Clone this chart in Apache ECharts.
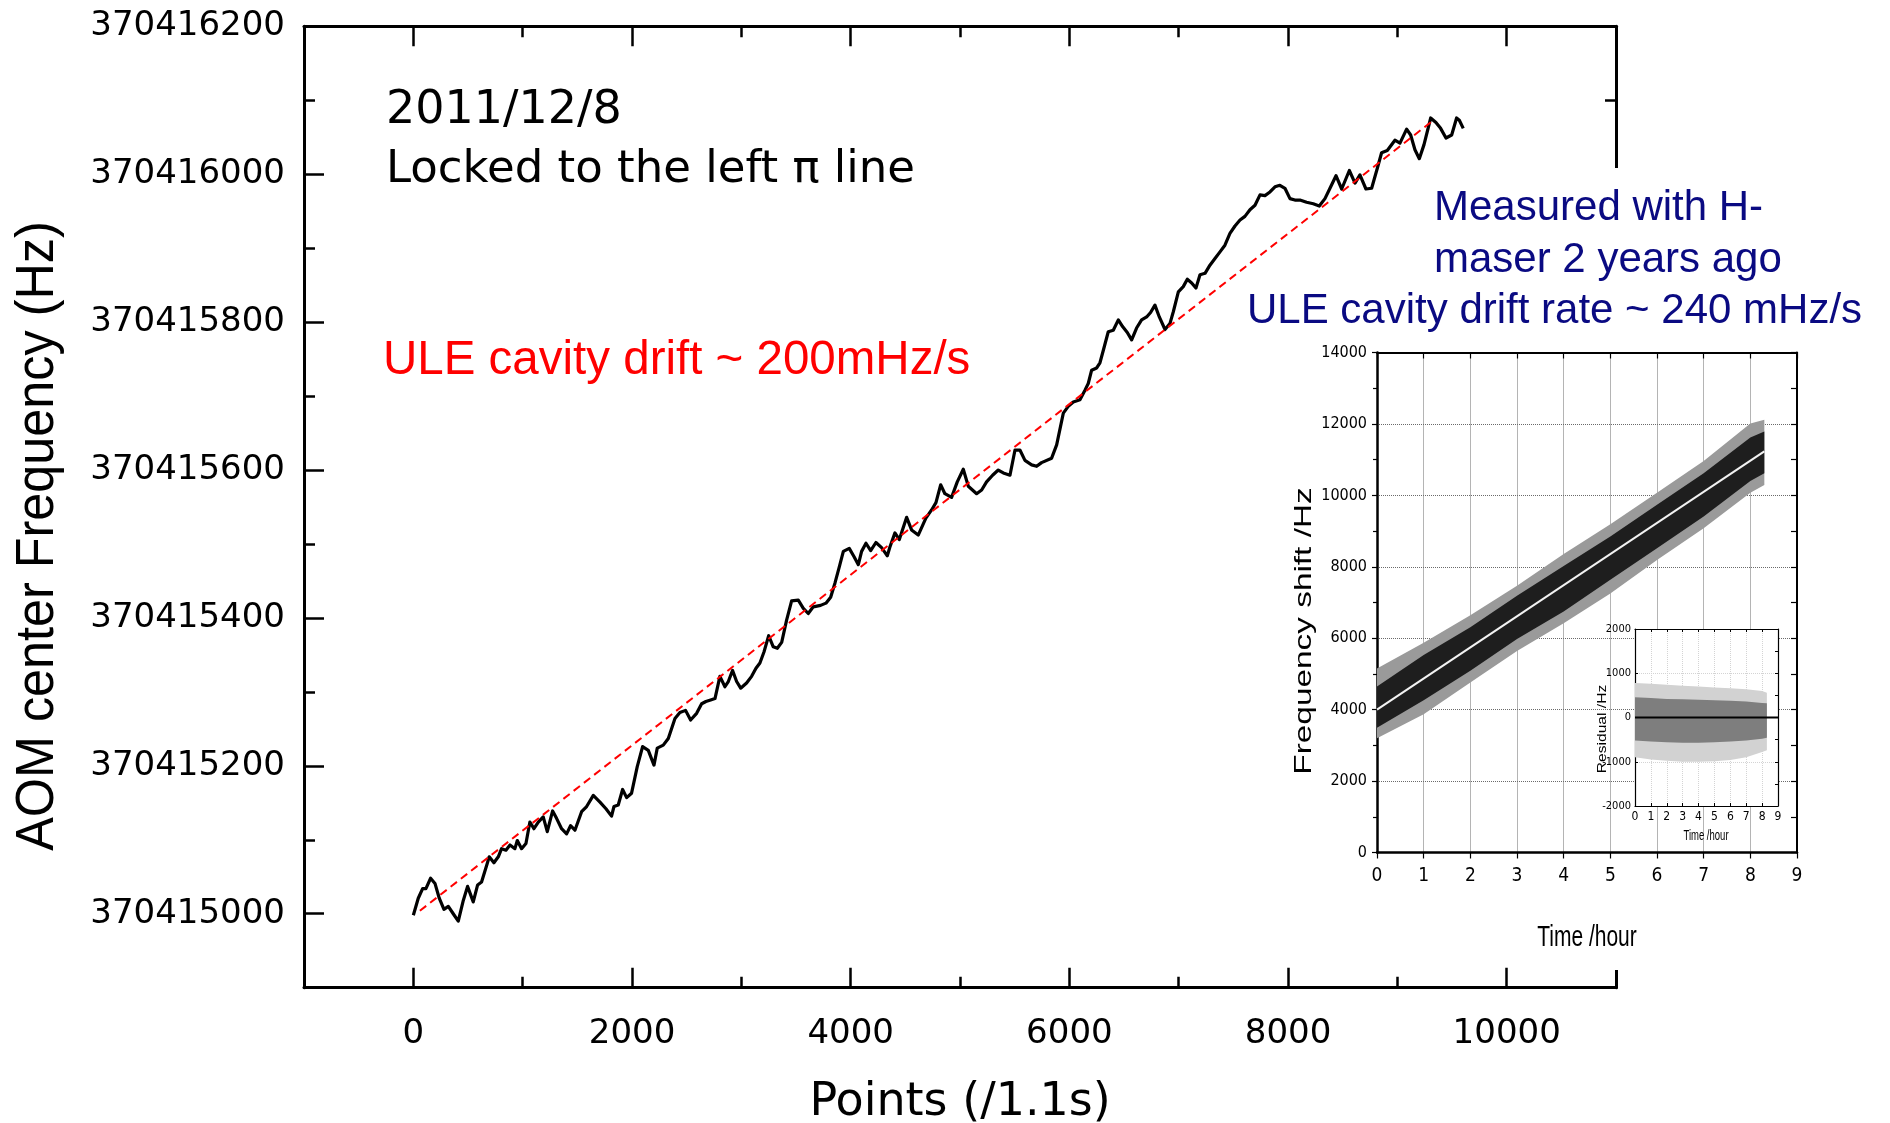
<!DOCTYPE html>
<html>
<head>
<meta charset="utf-8">
<title>AOM center frequency drift</title>
<script src="https://cdn.jsdelivr.net/npm/echarts@6/dist/echarts.min.js"></script>
<style>
  html, body { margin: 0; padding: 0; background: #fff; }
  #chart { width: 1890px; height: 1123px; }
</style>
</head>
<body>
<div id="chart"></div>
<script>
// main trace, point index (1 point = 1.1 s) vs AOM centre frequency (Hz)
const pointIdx = [
  0,45,85,115,158,198,237,280,320,365,
  411,457,496,548,588,624,676,694,737,777,
  807,847,884,929,951,990,1030,1066,1103,1143,
  1188,1225,1274,1310,1356,1402,1438,1478,1539,1585,
  1646,1707,1762,1813,1835,1874,1914,1951,1996,2048,
  2097,2149,2201,2231,2286,2332,2393,2438,2490,2536,
  2591,2637,2676,2719,2759,2804,2850,2881,2920,2957,
  2994,3048,3094,3134,3170,3207,3250,3292,3329,3369,
  3414,3460,3521,3567,3612,3658,3725,3774,3817,3856,
  3896,3933,3987,4030,4070,4100,4140,4183,4231,4283,
  4335,4359,4405,4445,4512,4557,4618,4688,4740,4780,
  4823,4862,4923,4975,5030,5076,5152,5198,5243,5298,
  5350,5396,5457,5503,5548,5594,5655,5701,5746,5838,
  5884,5945,5990,6036,6097,6143,6173,6204,6250,6280,
  6311,6356,6402,6448,6487,6530,6570,6615,6661,6707,
  6743,6783,6823,6875,6920,6951,6997,7042,7079,7119,
  7158,7195,7241,7286,7332,7378,7423,7469,7515,7561,
  7606,7652,7698,7744,7789,7835,7881,7926,7972,8018,
  8063,8109,8170,8231,8286,8338,8384,8439,8491,8561,
  8613,8658,8713,8765,8817,8856,8908,8978,9024,9085,
  9122,9161,9201,9244,9305,9353,9396,9445,9497,9542,
  9567,9603
];
const freqHz = [
  370414998,370415021,370415034,370415034,370415048,370415041,370415021,370415006,370415010,370415000,
  370414990,370415018,370415037,370415016,370415039,370415043,370415068,370415077,370415069,370415077,
  370415088,370415086,370415093,370415088,370415099,370415088,370415095,370415124,370415115,370415124,
  370415131,370415111,370415139,370415129,370415115,370415108,370415119,370415113,370415138,370415145,
  370415160,370415151,370415142,370415132,370415145,370415147,370415168,370415157,370415163,370415199,
  370415226,370415221,370415201,370415224,370415228,370415237,370415264,370415272,370415275,370415262,
  370415271,370415284,370415287,370415289,370415291,370415321,370415307,370415314,370415329,370415314,
  370415305,370415312,370415321,370415332,370415339,370415354,370415376,370415361,370415359,370415367,
  370415397,370415423,370415424,370415413,370415406,370415415,370415417,370415420,370415428,370415447,
  370415469,370415490,370415494,370415483,370415472,370415490,370415501,370415491,370415502,370415495,
  370415484,370415496,370415515,370415506,370415536,370415519,370415512,370415535,370415546,370415556,
  370415580,370415568,370415563,370415584,370415601,370415578,370415568,370415573,370415584,370415593,
  370415600,370415596,370415593,370415627,370415627,370415613,370415607,370415605,370415610,370415616,
  370415634,370415677,370415686,370415692,370415695,370415708,370415717,370415735,370415738,370415745,
  370415762,370415787,370415789,370415803,370415794,370415786,370415776,370415792,370415803,370415807,
  370415813,370415823,370415807,370415790,370415798,370415814,370415841,370415848,370415858,370415853,
  370415846,370415864,370415866,370415877,370415886,370415895,370415904,370415920,370415930,370415938,
  370415943,370415952,370415958,370415972,370415971,370415976,370415983,370415985,370415981,370415967,
  370415965,370415965,370415962,370415960,370415957,370415967,370415981,370415998,370415980,370416005,
  370415988,370415999,370415980,370415981,370416008,370416029,370416032,370416046,370416042,370416061,
  370416053,370416033,370416021,370416040,370416076,370416070,370416062,370416049,370416053,370416076,
  370416073,370416062
];

// red dashed drift guide
const driftIdx = [60, 9330];
const driftHz = [370415004, 370416073];

const insetHours = [0, 1, 2, 3, 4, 5, 6, 7, 8, 8.3];
const insetOuterLow = [3200, 3870, 4760, 5640, 6420, 7250, 8190, 9080, 10070, 10290];
const insetCoreLow = [3490, 4260, 5090, 5980, 6750, 7640, 8520, 9410, 10400, 10620];
const insetCoreHigh = [4650, 5530, 6310, 7190, 8020, 8850, 9740, 10620, 11620, 11790];
const insetOuterHigh = [5150, 5870, 6640, 7470, 8360, 9190, 10070, 10960, 12010, 12120];
const fitHours = [0, 8.3];
const fitHz = [4000, 11230];

// inset of inset: residuals
const residHours = [0, 1, 2, 3, 4, 5, 6, 7, 8, 8.3];
const residOuterLow = [-900, -950, -980, -1000, -1000, -990, -960, -900, -780, -740];
const residCoreLow = [-520, -540, -560, -570, -570, -560, -540, -520, -480, -460];
const residCoreHigh = [460, 440, 420, 410, 400, 390, 380, 360, 330, 320];
const residOuterHigh = [780, 760, 740, 720, 700, 680, 660, 640, 600, 560];
const zeroHours = [0, 9];
const zeroHz = [0, 0];

const TICK_FONT = 'DejaVu Sans';
const NARROW = '"Liberation Sans Narrow", "DejaVu Sans Condensed", "Liberation Sans", sans-serif';
const ARIAL = '"Liberation Sans", Arial, sans-serif';

const pairs = (xs, ys) => xs.map((x, i) => [x, ys[i]]);

// filled polygon between a lower and an upper envelope
function band(xs, low, high, color, axisIdx, z) {
  return {
    type: 'custom',
    coordinateSystem: 'cartesian2d',
    xAxisIndex: axisIdx,
    yAxisIndex: axisIdx,
    z: z,
    silent: true,
    data: [[xs[0], low[0]]],
    renderItem: (params, api) => {
      const top = xs.map((x, i) => api.coord([x, high[i]]));
      const bottom = xs.map((x, i) => api.coord([x, low[i]])).reverse();
      return { type: 'polygon', shape: { points: top.concat(bottom) }, style: { fill: color } };
    }
  };
}

const black = '#000';
const frame = (w) => ({ show: true, onZero: false, lineStyle: { color: black, width: w } });
const noLabel = { show: false };
const dotted = (c) => ({ show: true, lineStyle: { type: 'dotted', color: c, width: 1 } });

const mainMinorX = (pos) => ({
  gridIndex: 0, type: 'value', position: pos, min: -1000, max: 11000, interval: 1000,
  axisLine: frame(3), axisTick: { inside: true, length: 11, lineStyle: { width: 2.5, color: black } },
  axisLabel: noLabel, splitLine: { show: false }
});
const mainMinorY = (pos) => ({
  gridIndex: 0, type: 'value', position: pos, min: 370414900, max: 370416200, interval: 100,
  axisLine: frame(3), axisTick: { inside: true, length: 11, lineStyle: { width: 2.5, color: black } },
  axisLabel: noLabel, splitLine: { show: false }
});
const hoursAxis = (grid, pos, z, lw, tick, label, split) => ({
  gridIndex: grid, type: 'value', position: pos, min: 0, max: 9, interval: 1, z: z,
  axisLine: frame(lw), axisTick: tick, axisLabel: label, splitLine: split
});

const option = {
  animation: false,
  backgroundColor: '#fff',
  grid: [
    { left: 304, top: 26.3, width: 1312, height: 961.4, outerBoundsMode: 'none' },
    { left: 413.4, top: 26.3, width: 1093.3, height: 961.4, outerBoundsMode: 'none' },
    { left: 304, top: 26.3, width: 1312, height: 887.4, outerBoundsMode: 'none' },
    { left: 1377, top: 352.5, width: 420, height: 500, outerBoundsMode: 'none' },
    { left: 1635, top: 629, width: 143, height: 177, outerBoundsMode: 'none' }
  ],
  xAxis: [
    mainMinorX('bottom'),
    mainMinorX('top'),
    {
      gridIndex: 1, type: 'value', position: 'bottom', min: 0, max: 10000, interval: 2000,
      axisLine: { show: false },
      axisTick: { inside: true, length: 20, lineStyle: { width: 2.5, color: black } },
      axisLabel: { margin: 29, fontSize: 34, fontFamily: TICK_FONT, color: black, formatter: (v) => String(v) },
      splitLine: { show: false },
      name: 'Points (/1.1s)', nameLocation: 'middle', nameGap: 92,
      nameTextStyle: { fontSize: 46, fontFamily: TICK_FONT, color: black }
    },
    {
      gridIndex: 1, type: 'value', position: 'top', min: 0, max: 10000, interval: 2000,
      axisLine: { show: false },
      axisTick: { inside: true, length: 20, lineStyle: { width: 2.5, color: black } },
      axisLabel: noLabel, splitLine: { show: false }
    },
    { gridIndex: 2, type: 'value', show: false, min: 0, max: 1 },
    hoursAxis(3, 'bottom', 3, 2.5,
      { inside: false, length: 6, lineStyle: { width: 1.2, color: black } },
      { margin: 14, fontSize: 19, fontFamily: NARROW, color: black },
      dotted('#6a6a6a')),
    hoursAxis(3, 'top', 3, 2,
      { inside: true, length: 6, lineStyle: { width: 1.2, color: black } },
      noLabel, { show: false }),
    hoursAxis(4, 'bottom', 6, 1.2,
      { inside: true, length: 3, lineStyle: { width: 1, color: black } },
      { margin: 5, fontSize: 12, fontFamily: NARROW, color: black },
      dotted('#d4d4d4')),
    hoursAxis(4, 'top', 6, 1.2,
      { inside: true, length: 3, lineStyle: { width: 1, color: black } },
      noLabel, { show: false })
  ],
  yAxis: [
    mainMinorY('left'),
    mainMinorY('right'),
    { gridIndex: 1, type: 'value', show: false, min: 0, max: 1 },
    {
      gridIndex: 2, type: 'value', position: 'left', min: 370415000, max: 370416200, interval: 200,
      axisLine: { show: false },
      axisTick: { inside: true, length: 20, lineStyle: { width: 2.5, color: black } },
      axisLabel: { margin: 19, fontSize: 34, fontFamily: TICK_FONT, color: black, formatter: (v) => String(v) },
      splitLine: { show: false }
    },
    {
      gridIndex: 2, type: 'value', position: 'right', min: 370415000, max: 370416200, interval: 200,
      axisLine: { show: false },
      axisTick: { inside: true, length: 20, lineStyle: { width: 2.5, color: black } },
      axisLabel: noLabel, splitLine: { show: false }
    },
    {
      gridIndex: 3, type: 'value', position: 'left', min: 0, max: 14000, interval: 2000, z: 3,
      axisLine: frame(2.5),
      axisTick: { inside: false, length: 5, lineStyle: { width: 1.2, color: black } },
      minorTick: { show: true, splitNumber: 2, length: 4, lineStyle: { width: 1.2, color: black } },
      axisLabel: { margin: 10, fontSize: 16, fontFamily: NARROW, color: black, formatter: (v) => String(v) },
      splitLine: dotted('#6a6a6a')
    },
    {
      gridIndex: 3, type: 'value', position: 'right', min: 0, max: 14000, interval: 2000, z: 3,
      axisLine: frame(2),
      axisTick: { inside: true, length: 6, lineStyle: { width: 1.2, color: black } },
      minorTick: { show: true, splitNumber: 2, length: 6, lineStyle: { width: 1.2, color: black } },
      axisLabel: noLabel, splitLine: { show: false }
    },
    {
      gridIndex: 4, type: 'value', position: 'left', min: -2000, max: 2000, interval: 1000, z: 6,
      axisLine: frame(1.2),
      axisTick: { inside: true, length: 3, lineStyle: { width: 1, color: black } },
      axisLabel: { margin: 4, fontSize: 11, fontFamily: NARROW, color: black, formatter: (v) => String(v) },
      splitLine: dotted('#d4d4d4')
    },
    {
      gridIndex: 4, type: 'value', position: 'right', min: -2000, max: 2000, interval: 1000, z: 6,
      axisLine: frame(1.2),
      axisTick: { inside: true, length: 3, lineStyle: { width: 1, color: black } },
      minorTick: { show: true, splitNumber: 2, length: 3, lineStyle: { width: 1, color: black } },
      axisLabel: noLabel, splitLine: { show: false }
    }
  ],
  series: [
    {
      type: 'line', xAxisIndex: 0, yAxisIndex: 0, z: 2,
      symbol: 'none', data: pairs(pointIdx, freqHz),
      lineStyle: { color: black, width: 3.2, join: 'round' }
    },
    {
      type: 'line', xAxisIndex: 0, yAxisIndex: 0, z: 3,
      symbol: 'none', data: pairs(driftIdx, driftHz),
      lineStyle: { color: '#ff0000', width: 2, type: [8, 5] }
    },
    band(insetHours, insetOuterLow, insetOuterHigh, '#9a9a9a', 5, 4),
    band(insetHours, insetCoreLow, insetCoreHigh, '#1e1e1e', 5, 4),
    {
      type: 'line', xAxisIndex: 5, yAxisIndex: 5, z: 5,
      symbol: 'none', data: pairs(fitHours, fitHz),
      lineStyle: { color: '#f2f2f2', width: 2 }
    },
    band(residHours, residOuterLow, residOuterHigh, '#d2d2d2', 7, 7),
    band(residHours, residCoreLow, residCoreHigh, '#7e7e7e', 7, 7),
    {
      type: 'line', xAxisIndex: 7, yAxisIndex: 7, z: 8,
      symbol: 'none', data: pairs(zeroHours, zeroHz),
      lineStyle: { color: black, width: 1.8 }
    }
  ],
  graphic: {
    elements: [
      // white patch of the pasted inset picture over the main frame
      { type: 'rect', z: 1, silent: true, shape: { x: 1590, y: 168, width: 50, height: 802 }, style: { fill: '#fff' } },
      { type: 'rect', z: 5, silent: true, shape: { x: 1635, y: 629, width: 143, height: 177 }, style: { fill: '#fff' } },
      {
        type: 'text', z: 10, x: 38, y: 536, rotation: Math.PI / 2, scaleX: 0.95,
        style: { text: 'AOM center Frequency (Hz)', font: '53px ' + ARIAL, fill: black, align: 'center', verticalAlign: 'middle' }
      },
      {
        type: 'text', z: 10, x: 386, y: 111,
        style: { text: '2011/12/8', font: '46px "DejaVu Sans"', fill: black, align: 'left', verticalAlign: 'middle' }
      },
      {
        type: 'text', z: 10, x: 386, y: 170,
        style: { text: 'Locked to the left \u03c0 line', font: '45px "DejaVu Sans"', fill: black, align: 'left', verticalAlign: 'middle' }
      },
      {
        type: 'text', z: 10, x: 383, y: 361,
        style: { text: 'ULE cavity drift ~ 200mHz/s', font: '47.5px ' + ARIAL, fill: '#ff0000', align: 'left', verticalAlign: 'middle' }
      },
      {
        type: 'text', z: 10, x: 1434, y: 208,
        style: { text: 'Measured with H-', font: '42px ' + ARIAL, fill: '#0a0a82', align: 'left', verticalAlign: 'middle' }
      },
      {
        type: 'text', z: 10, x: 1434, y: 260,
        style: { text: 'maser 2 years ago', font: '42px ' + ARIAL, fill: '#0a0a82', align: 'left', verticalAlign: 'middle' }
      },
      {
        type: 'text', z: 10, x: 1247, y: 311,
        style: { text: 'ULE cavity drift rate ~ 240 mHz/s', font: '42px ' + ARIAL, fill: '#0a0a82', align: 'left', verticalAlign: 'middle' }
      },
      {
        type: 'text', z: 10, x: 1304, y: 631, rotation: Math.PI / 2, scaleX: 1.39,
        style: { text: 'Frequency shift /Hz', font: '24px ' + ARIAL, fill: black, align: 'center', verticalAlign: 'middle' }
      },
      {
        type: 'text', z: 10, x: 1587, y: 938, scaleX: 0.7,
        style: { text: 'Time /hour', font: '30px ' + ARIAL, fill: black, align: 'center', verticalAlign: 'middle' }
      },
      {
        type: 'text', z: 10, x: 1603, y: 729, rotation: Math.PI / 2, scaleX: 1.3,
        style: { text: 'Residual /Hz', font: '12px ' + ARIAL, fill: black, align: 'center', verticalAlign: 'middle' }
      },
      {
        type: 'text', z: 10, x: 1706, y: 836, scaleX: 0.68,
        style: { text: 'Time /hour', font: '14px ' + ARIAL, fill: black, align: 'center', verticalAlign: 'middle' }
      }
    ]
  }
};

const myChart = echarts.init(document.getElementById('chart'), null, { renderer: 'canvas' });
myChart.setOption(option);
</script>
</body>
</html>
